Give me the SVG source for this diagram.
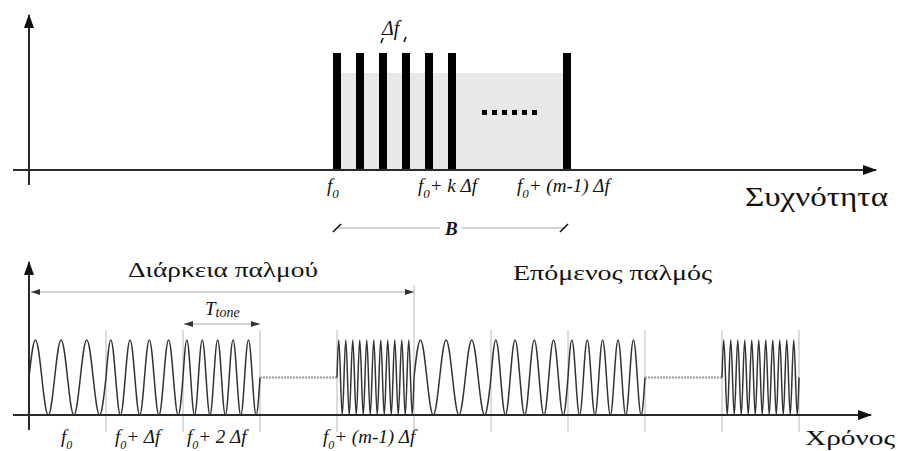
<svg xmlns="http://www.w3.org/2000/svg" xmlns:xlink="http://www.w3.org/1999/xlink" width="898" height="451" viewBox="0 0 898 451">
<style>
.ax{stroke:#2a2a2a;stroke-width:2;fill:none}
.wv{stroke:#333;stroke-width:1.5;fill:none;stroke-linejoin:round}
.gr{stroke:#b8b8b8;stroke-width:1;fill:none}
.dim{stroke:#a8a8a8;stroke-width:1;fill:none}
.flat{stroke:#9a9a9a;stroke-width:2;stroke-dasharray:2 1;fill:none}
.bar{fill:#000}
.gk{font-family:"Liberation Serif","DejaVu Serif",serif;fill:#111}
.mt{font-family:"Liberation Serif","DejaVu Serif",serif;font-style:italic;fill:#111}
.tk{stroke:#111;stroke-width:1.6}
</style>
<defs>
<marker id="axArr" markerUnits="userSpaceOnUse" markerWidth="14" markerHeight="10" refX="13" refY="5" orient="auto">
<path d="M0,0 L14,5 L0,10 Z" fill="#111"/>
</marker>
<marker id="dArr" markerUnits="userSpaceOnUse" markerWidth="9" markerHeight="6" refX="9" refY="3" orient="auto-start-reverse">
<path d="M0,0 L9,3 L0,6 Z" fill="#333"/>
</marker>
<path id="w3" class="wv" d="M0,0c2.145,-19.69 4.105,-37.5 6.417,-37.5s4.272,17.81 6.417,37.5s4.105,37.5 6.417,37.5s4.272,-17.81 6.417,-37.5s4.105,-37.5 6.417,-37.5s4.272,17.81 6.417,37.5s4.105,37.5 6.417,37.5s4.272,-17.81 6.417,-37.5s4.105,-37.5 6.417,-37.5s4.272,17.81 6.417,37.5s4.105,37.5 6.417,37.5s4.272,-17.81 6.417,-37.5"/>
<path id="w4" class="wv" d="M0,0c1.609,-19.69 3.079,-37.5 4.8125,-37.5s3.204,17.81 4.8125,37.5s3.079,37.5 4.8125,37.5s3.204,-17.81 4.8125,-37.5s3.079,-37.5 4.8125,-37.5s3.204,17.81 4.8125,37.5s3.079,37.5 4.8125,37.5s3.204,-17.81 4.8125,-37.5s3.079,-37.5 4.8125,-37.5s3.204,17.81 4.8125,37.5s3.079,37.5 4.8125,37.5s3.204,-17.81 4.8125,-37.5s3.079,-37.5 4.8125,-37.5s3.204,17.81 4.8125,37.5s3.079,37.5 4.8125,37.5s3.204,-17.81 4.8125,-37.5"/>
<path id="w5" class="wv" d="M0,0c1.287,-19.69 2.463,-37.5 3.85,-37.5s2.563,17.81 3.85,37.5s2.463,37.5 3.85,37.5s2.563,-17.81 3.85,-37.5s2.463,-37.5 3.85,-37.5s2.563,17.81 3.85,37.5s2.463,37.5 3.85,37.5s2.563,-17.81 3.85,-37.5s2.463,-37.5 3.85,-37.5s2.563,17.81 3.85,37.5s2.463,37.5 3.85,37.5s2.563,-17.81 3.85,-37.5s2.463,-37.5 3.85,-37.5s2.563,17.81 3.85,37.5s2.463,37.5 3.85,37.5s2.563,-17.81 3.85,-37.5s2.463,-37.5 3.85,-37.5s2.563,17.81 3.85,37.5s2.463,37.5 3.85,37.5s2.563,-17.81 3.85,-37.5"/>
<path id="w11" class="wv" d="M0,0c0.585,-19.69 1.119,-37.5 1.75,-37.5s1.165,17.81 1.75,37.5s1.119,37.5 1.75,37.5s1.165,-17.81 1.75,-37.5s1.119,-37.5 1.75,-37.5s1.165,17.81 1.75,37.5s1.119,37.5 1.75,37.5s1.165,-17.81 1.75,-37.5s1.119,-37.5 1.75,-37.5s1.165,17.81 1.75,37.5s1.119,37.5 1.75,37.5s1.165,-17.81 1.75,-37.5s1.119,-37.5 1.75,-37.5s1.165,17.81 1.75,37.5s1.119,37.5 1.75,37.5s1.165,-17.81 1.75,-37.5s1.119,-37.5 1.75,-37.5s1.165,17.81 1.75,37.5s1.119,37.5 1.75,37.5s1.165,-17.81 1.75,-37.5s1.119,-37.5 1.75,-37.5s1.165,17.81 1.75,37.5s1.119,37.5 1.75,37.5s1.165,-17.81 1.75,-37.5s1.119,-37.5 1.75,-37.5s1.165,17.81 1.75,37.5s1.119,37.5 1.75,37.5s1.165,-17.81 1.75,-37.5s1.119,-37.5 1.75,-37.5s1.165,17.81 1.75,37.5s1.119,37.5 1.75,37.5s1.165,-17.81 1.75,-37.5s1.119,-37.5 1.75,-37.5s1.165,17.81 1.75,37.5s1.119,37.5 1.75,37.5s1.165,-17.81 1.75,-37.5s1.119,-37.5 1.75,-37.5s1.165,17.81 1.75,37.5s1.119,37.5 1.75,37.5s1.165,-17.81 1.75,-37.5s1.119,-37.5 1.75,-37.5s1.165,17.81 1.75,37.5s1.119,37.5 1.75,37.5s1.165,-17.81 1.75,-37.5"/>
</defs>

<!-- TOP: frequency spectrum -->
<g id="spectrum">
<rect id="band" x="341" y="73" width="222" height="97" fill="#e8e8e8"/>
<g id="bars" class="bar">
<rect x="333" y="53" width="8" height="117"/>
<rect x="356" y="53" width="8" height="117"/>
<rect x="379" y="53" width="8" height="117"/>
<rect x="402" y="53" width="8" height="117"/>
<rect x="425" y="53" width="8" height="117"/>
<rect x="448" y="53" width="8" height="117"/>
<rect x="563" y="53" width="8" height="117"/>
</g>
<g id="dots" fill="#000">
<rect x="482" y="110" width="5" height="5"/>
<rect x="492" y="110" width="5" height="5"/>
<rect x="502" y="110" width="5" height="5"/>
<rect x="512" y="110" width="5" height="5"/>
<rect x="522" y="110" width="5" height="5"/>
<rect x="532" y="110" width="5" height="5"/>
</g>
</g>

<g id="top-axes">
<line class="ax" x1="29" y1="185" x2="29" y2="15" marker-end="url(#axArr)"/>
<line class="ax" x1="13" y1="170" x2="876" y2="170" marker-end="url(#axArr)"/>
</g>

<g id="top-labels">
<text class="mt" x="382" y="35" font-size="20">Δf</text>
<line class="tk" x1="381" y1="43" x2="383" y2="38"/>
<line class="tk" x1="404" y1="42" x2="406" y2="37"/>
<text class="mt" x="327" y="192" font-size="19">f<tspan font-size="13" dy="6">0</tspan></text>
<text class="mt" x="418" y="192" font-size="19">f<tspan font-size="13" dy="6">0</tspan><tspan dy="-6">+ k Δf</tspan></text>
<text class="mt" x="517" y="192" font-size="19">f<tspan font-size="13" dy="6">0</tspan><tspan dy="-6">+ (m-1) Δf</tspan></text>
<g id="bandwidth">
<line class="dim" x1="338" y1="228" x2="440" y2="228"/>
<line class="dim" x1="462" y1="228" x2="565" y2="228"/>
<line class="tk" x1="333" y1="232" x2="341" y2="224"/>
<line class="tk" x1="560" y1="232" x2="568" y2="224"/>
<text class="mt" x="445" y="235" font-size="19" font-weight="bold">B</text>
</g>
<text class="gk" x="745" y="206" font-size="27" textLength="143" lengthAdjust="spacingAndGlyphs">Συχνότητα</text>
</g>

<!-- BOTTOM: time signal -->
<g id="grid" class="gr">
<line x1="106" y1="330" x2="106" y2="432"/>
<line x1="183" y1="330" x2="183" y2="432"/>
<line x1="260" y1="330" x2="260" y2="432"/>
<line x1="337" y1="330" x2="337" y2="432"/>
<line x1="414" y1="285" x2="414" y2="432"/>
<line x1="491" y1="330" x2="491" y2="432"/>
<line x1="568" y1="330" x2="568" y2="432"/>
<line x1="645" y1="330" x2="645" y2="432"/>
<line x1="722" y1="330" x2="722" y2="432"/>
<line x1="799" y1="330" x2="799" y2="432"/>
</g>

<g id="pulse1">
<use xlink:href="#w3" x="29" y="377.5"/>
<use xlink:href="#w4" x="106" y="377.5"/>
<use xlink:href="#w5" x="183" y="377.5"/>
<line class="flat" x1="260" y1="377.5" x2="337" y2="377.5"/>
<use xlink:href="#w11" x="337" y="377.5"/>
</g>
<g id="pulse2">
<use xlink:href="#w3" x="414" y="377.5"/>
<use xlink:href="#w4" x="491" y="377.5"/>
<use xlink:href="#w5" x="568" y="377.5"/>
<line class="flat" x1="645" y1="377.5" x2="722" y2="377.5"/>
<use xlink:href="#w11" x="722" y="377.5"/>
</g>

<g id="bottom-axes">
<line class="ax" x1="29" y1="430" x2="29" y2="262" marker-end="url(#axArr)"/>
<line class="ax" x1="13" y1="415" x2="871" y2="415" marker-end="url(#axArr)"/>
</g>

<g id="dimensions">
<line class="dim" x1="31" y1="292" x2="414" y2="292" marker-start="url(#dArr)" marker-end="url(#dArr)"/>
<line class="dim" x1="184" y1="324" x2="260" y2="324" marker-start="url(#dArr)" marker-end="url(#dArr)"/>
</g>

<g id="bottom-labels">
<text class="gk" x="128" y="277" font-size="22" textLength="190" lengthAdjust="spacingAndGlyphs">Διάρκεια παλμού</text>
<text class="gk" x="513" y="280" font-size="22" textLength="199" lengthAdjust="spacingAndGlyphs">Επόμενος παλμός</text>
<text class="mt" x="205" y="315" font-size="19">T<tspan font-size="14" dy="2">tone</tspan></text>
<text class="mt" x="61" y="443" font-size="19">f<tspan font-size="12" dy="6">0</tspan></text>
<text class="mt" x="115" y="443" font-size="19">f<tspan font-size="12" dy="6">0</tspan><tspan dy="-6">+  Δf</tspan></text>
<text class="mt" x="187" y="443" font-size="19">f<tspan font-size="12" dy="6">0</tspan><tspan dy="-6">+ 2 Δf</tspan></text>
<text class="mt" x="323" y="443" font-size="19">f<tspan font-size="12" dy="6">0</tspan><tspan dy="-6">+ (m-1) Δf</tspan></text>
<text class="gk" x="805" y="445" font-size="22" textLength="90" lengthAdjust="spacingAndGlyphs">Χρόνος</text>
</g>
</svg>
